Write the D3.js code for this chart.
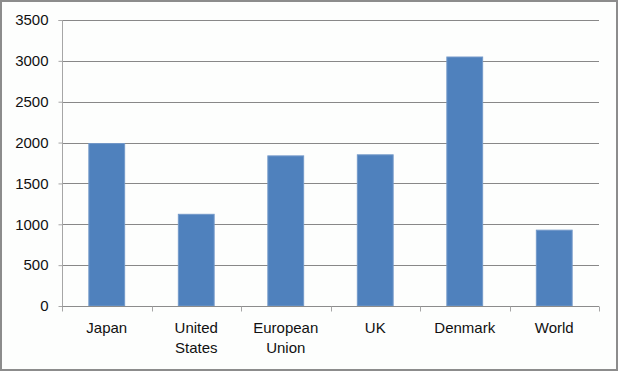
<!DOCTYPE html>
<html>
<head>
<meta charset="utf-8">
<script src="https://cdn.jsdelivr.net/npm/d3@7"></script>
<style>
  body { margin: 0; background: #fff; }
  .tick text { font-family: "Liberation Sans", Arial, sans-serif; font-size: 15px; fill: #111; }
</style>
</head>
<body>
<div class="chart"></div>
<script>
var categories = ["Japan", "United States", "European Union", "UK", "Denmark", "World"];
var values = [1988, 1122, 1837, 1850, 3047, 928];
var yTicks = [0, 500, 1000, 1500, 2000, 2500, 3000, 3500];

var svgWidth = 618;
var svgHeight = 371;

var margin = { top: 20, right: 19, bottom: 65, left: 62 };
var width = svgWidth - margin.left - margin.right;
var height = svgHeight - margin.top - margin.bottom;

var svg = d3.select(".chart")
  .append("svg")
  .attr("width", svgWidth)
  .attr("height", svgHeight);

// outer frame
svg.append("rect")
  .attr("x", 1)
  .attr("y", 1)
  .attr("width", svgWidth - 2)
  .attr("height", svgHeight - 2)
  .attr("fill", "#fdfefd")
  .attr("stroke", "#8c8c8c")
  .attr("stroke-width", 2);

var chartGroup = svg.append("g")
  .attr("transform", `translate(${margin.left}, ${margin.top})`);

var xScale = d3.scaleBand()
  .domain(categories)
  .range([0, width])
  .paddingInner(0.6)
  .paddingOuter(0.3);

var xTickScale = d3.scaleBand()
  .domain(categories)
  .range([0, width]);

var yScale = d3.scaleLinear()
  .domain([0, 3500])
  .range([height, 0]);

// gridlines
chartGroup.append("g")
  .selectAll("line")
  .data(yTicks.slice(1))
  .enter()
  .append("line")
  .attr("x1", 0)
  .attr("x2", width)
  .attr("y1", d => Math.round(yScale(d)) + 0.5)
  .attr("y2", d => Math.round(yScale(d)) + 0.5)
  .attr("stroke", "#888")
  .attr("stroke-width", 1);

// bars
chartGroup.selectAll(".bar")
  .data(values)
  .enter()
  .append("rect")
  .attr("class", "bar")
  .attr("x", (d, i) => xScale(categories[i]))
  .attr("y", d => yScale(d))
  .attr("width", xScale.bandwidth())
  .attr("height", d => height - yScale(d))
  .attr("fill", "#4f81bd")
  .attr("stroke", "#7399c9")
  .attr("stroke-width", 1);

// y axis
var leftAxis = d3.axisLeft(yScale)
  .tickValues(yTicks)
  .tickSize(4)
  .tickPadding(10)
  .tickFormat(d3.format("d"));

var yAxisG = chartGroup.append("g")
  .attr("transform", "translate(0.5, 0)")
  .call(leftAxis);
yAxisG.select(".domain").attr("stroke", "#a6a6a6").attr("d", `M-4,${yScale(3500) + 0.5}H0V${height + 0.5}`);
yAxisG.selectAll(".tick line").attr("stroke", "#a6a6a6");

// x axis
var bottomAxis = d3.axisBottom(xTickScale)
  .tickSize(0)
  .tickPadding(16);

var xAxisG = chartGroup.append("g")
  .attr("transform", `translate(0, ${height + 0.5})`)
  .call(bottomAxis);
xAxisG.select(".domain").attr("stroke", "#8c8c8c").attr("d", `M0,0H${width}`);

// tick marks between categories
xAxisG.selectAll(".sep")
  .data(d3.range(categories.length + 1))
  .enter()
  .append("line")
  .attr("class", "sep")
  .attr("x1", i => Math.round(i * xTickScale.step()) + 0.5)
  .attr("x2", i => Math.round(i * xTickScale.step()) + 0.5)
  .attr("y1", 0)
  .attr("y2", 5)
  .attr("stroke", "#a6a6a6");

// wrap two-word labels
xAxisG.selectAll(".tick text").each(function(d) {
  var words = d.split(" ");
  var t = d3.select(this);
  if (words.length > 1) {
    t.text(null);
    words.forEach(function(w, i) {
      t.append("tspan")
        .attr("x", 0)
        .attr("dy", i === 0 ? "0.71em" : "20px")
        .text(w);
    });
  }
});
</script>
</body>
</html>
